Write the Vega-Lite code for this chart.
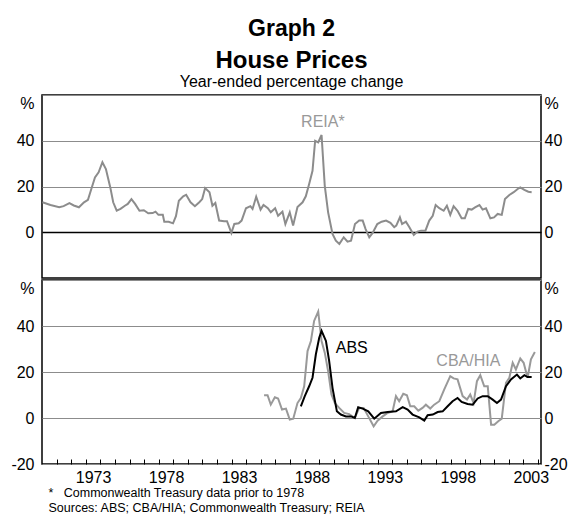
{
  "$schema": "https://vega.github.io/schema/vega-lite/v6.json",
  "background": "white",
  "padding": {"left": 10, "top": 18, "right": 0, "bottom": 0},
  "config": {
    "font": "Liberation Sans",
    "view": {"stroke": "black", "strokeWidth": 1.5},
    "concat": {"spacing": 0},
    "axis": {"labelFontSize": 16, "labelColor": "black", "labelFont": "Liberation Sans", "labelOverlap": false, "labelFlush": false, "domain": false}
  },
  "title": {"text": "Graph 2", "fontSize": 23, "fontWeight": "bold", "color": "black", "anchor": "middle", "frame": "group", "offset": 7},
  "datasets": {
    "reia": [
      {"year": 1970.03, "value": 13.1}, {"year": 1970.58, "value": 11.9}, {"year": 1971.18, "value": 10.9}, {"year": 1971.48, "value": 11.4},
      {"year": 1971.88, "value": 12.7}, {"year": 1972.18, "value": 11.7}, {"year": 1972.53, "value": 10.9}, {"year": 1972.88, "value": 13.1},
      {"year": 1973.15, "value": 14.2}, {"year": 1973.38, "value": 18.9}, {"year": 1973.63, "value": 24.0}, {"year": 1973.88, "value": 26.2},
      {"year": 1974.14, "value": 30.6}, {"year": 1974.38, "value": 27.6}, {"year": 1974.68, "value": 19.6}, {"year": 1974.88, "value": 13.1},
      {"year": 1975.12, "value": 9.4}, {"year": 1975.38, "value": 10.2}, {"year": 1975.68, "value": 11.6}, {"year": 1975.88, "value": 12.4},
      {"year": 1976.13, "value": 14.5}, {"year": 1976.38, "value": 12.4}, {"year": 1976.68, "value": 9.4}, {"year": 1976.98, "value": 9.6},
      {"year": 1977.28, "value": 8.3}, {"year": 1977.58, "value": 8.4}, {"year": 1977.78, "value": 9.0}, {"year": 1977.98, "value": 7.6},
      {"year": 1978.28, "value": 7.6}, {"year": 1978.38, "value": 4.6}, {"year": 1978.68, "value": 4.6}, {"year": 1978.98, "value": 3.9},
      {"year": 1979.18, "value": 7.0}, {"year": 1979.38, "value": 13.8}, {"year": 1979.68, "value": 15.7}, {"year": 1979.88, "value": 16.4},
      {"year": 1980.18, "value": 13.1}, {"year": 1980.48, "value": 11.4}, {"year": 1980.78, "value": 13.1}, {"year": 1980.98, "value": 14.5},
      {"year": 1981.18, "value": 19.3}, {"year": 1981.48, "value": 17.5}, {"year": 1981.68, "value": 11.6}, {"year": 1981.88, "value": 12.8},
      {"year": 1982.14, "value": 5.1}, {"year": 1982.48, "value": 4.8}, {"year": 1982.68, "value": 4.8}, {"year": 1982.98, "value": -0.3},
      {"year": 1983.18, "value": 3.6}, {"year": 1983.48, "value": 3.9}, {"year": 1983.68, "value": 5.1}, {"year": 1983.98, "value": 10.5},
      {"year": 1984.28, "value": 11.4}, {"year": 1984.43, "value": 10.2}, {"year": 1984.68, "value": 15.5}, {"year": 1984.98, "value": 9.9},
      {"year": 1985.18, "value": 11.9}, {"year": 1985.48, "value": 10.5}, {"year": 1985.68, "value": 8.7}, {"year": 1985.98, "value": 10.5},
      {"year": 1986.18, "value": 7.2}, {"year": 1986.48, "value": 9.0}, {"year": 1986.68, "value": 3.6}, {"year": 1986.98, "value": 8.7},
      {"year": 1987.21, "value": 2.9}, {"year": 1987.51, "value": 11.0}, {"year": 1987.86, "value": 13.1}, {"year": 1988.08, "value": 15.7},
      {"year": 1988.31, "value": 21.1}, {"year": 1988.54, "value": 26.9}, {"year": 1988.72, "value": 40.0}, {"year": 1988.93, "value": 39.3},
      {"year": 1989.16, "value": 42.5}, {"year": 1989.38, "value": 20.3}, {"year": 1989.61, "value": 8.7}, {"year": 1989.91, "value": -0.7},
      {"year": 1990.14, "value": -3.7}, {"year": 1990.38, "value": -5.1}, {"year": 1990.68, "value": -2.2}, {"year": 1990.94, "value": -4.1},
      {"year": 1991.18, "value": -3.7}, {"year": 1991.45, "value": 3.6}, {"year": 1991.74, "value": 5.1}, {"year": 1991.98, "value": 5.1},
      {"year": 1992.18, "value": 1.4}, {"year": 1992.43, "value": -2.2}, {"year": 1992.66, "value": -0.3}, {"year": 1992.98, "value": 3.6},
      {"year": 1993.28, "value": 4.6}, {"year": 1993.58, "value": 5.1}, {"year": 1993.88, "value": 4.1}, {"year": 1994.14, "value": 2.2},
      {"year": 1994.28, "value": 2.9}, {"year": 1994.53, "value": 6.5}, {"year": 1994.68, "value": 3.6}, {"year": 1994.94, "value": 4.6},
      {"year": 1995.18, "value": 2.2}, {"year": 1995.48, "value": -1.2}, {"year": 1995.74, "value": 0.3}, {"year": 1995.98, "value": 0.7},
      {"year": 1996.28, "value": 0.7}, {"year": 1996.54, "value": 5.1}, {"year": 1996.78, "value": 7.2}, {"year": 1996.98, "value": 11.9},
      {"year": 1997.23, "value": 10.5}, {"year": 1997.53, "value": 9.4}, {"year": 1997.75, "value": 11.6}, {"year": 1997.98, "value": 7.6},
      {"year": 1998.21, "value": 11.4}, {"year": 1998.48, "value": 9.4}, {"year": 1998.76, "value": 6.1}, {"year": 1998.98, "value": 6.1},
      {"year": 1999.21, "value": 10.2}, {"year": 1999.45, "value": 9.9}, {"year": 1999.68, "value": 10.9}, {"year": 1999.98, "value": 11.9},
      {"year": 2000.2, "value": 9.9}, {"year": 2000.43, "value": 10.5}, {"year": 2000.73, "value": 6.1}, {"year": 2000.98, "value": 6.5},
      {"year": 2001.23, "value": 8.0}, {"year": 2001.51, "value": 7.6}, {"year": 2001.73, "value": 14.5}, {"year": 2002.03, "value": 16.3},
      {"year": 2002.33, "value": 17.5}, {"year": 2002.6, "value": 18.9}, {"year": 2002.78, "value": 19.6}, {"year": 2003.06, "value": 18.5},
      {"year": 2003.33, "value": 17.7}, {"year": 2003.56, "value": 17.5}
    ],
    "cba": [
      {"year": 1985.22, "value": 9.9}, {"year": 1985.46, "value": 9.9}, {"year": 1985.68, "value": 5.8}, {"year": 1985.96, "value": 9.0},
      {"year": 1986.18, "value": 8.5}, {"year": 1986.45, "value": 3.7}, {"year": 1986.72, "value": 4.1}, {"year": 1986.98, "value": -0.7},
      {"year": 1987.22, "value": -0.3}, {"year": 1987.51, "value": 6.5}, {"year": 1987.74, "value": 8.7}, {"year": 1987.97, "value": 13.8},
      {"year": 1988.2, "value": 29.1}, {"year": 1988.43, "value": 33.5}, {"year": 1988.65, "value": 42.2}, {"year": 1988.93, "value": 46.3},
      {"year": 1989.16, "value": 33.5}, {"year": 1989.38, "value": 28.4}, {"year": 1989.61, "value": 20.4}, {"year": 1989.84, "value": 10.2},
      {"year": 1990.07, "value": 6.5}, {"year": 1990.37, "value": 4.4}, {"year": 1990.71, "value": 2.2}, {"year": 1991.05, "value": 1.7},
      {"year": 1991.44, "value": 0.0}, {"year": 1991.74, "value": 4.4}, {"year": 1992.04, "value": 4.4}, {"year": 1992.36, "value": 0.7},
      {"year": 1992.73, "value": -3.6}, {"year": 1993.0, "value": -1.2}, {"year": 1993.35, "value": 0.7}, {"year": 1993.69, "value": 2.2},
      {"year": 1994.03, "value": 2.9}, {"year": 1994.26, "value": 9.5}, {"year": 1994.48, "value": 7.3}, {"year": 1994.76, "value": 10.5},
      {"year": 1995.01, "value": 9.9}, {"year": 1995.24, "value": 5.1}, {"year": 1995.51, "value": 5.1}, {"year": 1995.79, "value": 3.2},
      {"year": 1996.08, "value": 4.4}, {"year": 1996.31, "value": 5.8}, {"year": 1996.61, "value": 4.1}, {"year": 1996.88, "value": 5.8},
      {"year": 1997.23, "value": 7.3}, {"year": 1997.57, "value": 12.4}, {"year": 1997.98, "value": 18.2}, {"year": 1998.21, "value": 17.2},
      {"year": 1998.48, "value": 16.8}, {"year": 1998.83, "value": 9.5}, {"year": 1999.13, "value": 8.0}, {"year": 1999.35, "value": 10.2},
      {"year": 1999.58, "value": 6.5}, {"year": 1999.81, "value": 16.0}, {"year": 2000.04, "value": 18.6}, {"year": 2000.31, "value": 13.8},
      {"year": 2000.55, "value": 13.8}, {"year": 2000.78, "value": -2.9}, {"year": 2001.0, "value": -2.9}, {"year": 2001.27, "value": -1.4},
      {"year": 2001.51, "value": -0.3}, {"year": 2001.8, "value": 15.3}, {"year": 2002.03, "value": 17.5}, {"year": 2002.26, "value": 24.0},
      {"year": 2002.48, "value": 21.1}, {"year": 2002.78, "value": 25.9}, {"year": 2003.01, "value": 24.0}, {"year": 2003.28, "value": 17.5},
      {"year": 2003.51, "value": 25.5}, {"year": 2003.78, "value": 28.7}
    ],
    "abs": [
      {"year": 1987.74, "value": 5.1}, {"year": 1988.01, "value": 9.5}, {"year": 1988.31, "value": 13.8}, {"year": 1988.54, "value": 17.5},
      {"year": 1988.77, "value": 27.7}, {"year": 1989.0, "value": 34.9}, {"year": 1989.16, "value": 37.9}, {"year": 1989.46, "value": 33.5},
      {"year": 1989.68, "value": 24.8}, {"year": 1989.91, "value": 13.1}, {"year": 1990.21, "value": 2.9}, {"year": 1990.48, "value": 1.5},
      {"year": 1990.83, "value": 0.7}, {"year": 1991.18, "value": 0.7}, {"year": 1991.44, "value": 0.0}, {"year": 1991.67, "value": 4.7},
      {"year": 1991.98, "value": 4.1}, {"year": 1992.36, "value": 2.9}, {"year": 1992.77, "value": -0.3}, {"year": 1993.23, "value": 2.2},
      {"year": 1993.69, "value": 2.6}, {"year": 1994.26, "value": 2.9}, {"year": 1994.72, "value": 4.7}, {"year": 1995.06, "value": 3.7},
      {"year": 1995.4, "value": 1.5}, {"year": 1995.86, "value": 0.3}, {"year": 1996.2, "value": -1.1}, {"year": 1996.43, "value": 1.2},
      {"year": 1996.78, "value": 1.5}, {"year": 1997.12, "value": 2.6}, {"year": 1997.46, "value": 2.9}, {"year": 1997.8, "value": 5.1},
      {"year": 1998.14, "value": 7.3}, {"year": 1998.48, "value": 8.7}, {"year": 1998.76, "value": 7.0}, {"year": 1999.17, "value": 6.1},
      {"year": 1999.52, "value": 5.8}, {"year": 1999.86, "value": 8.5}, {"year": 2000.2, "value": 9.5}, {"year": 2000.55, "value": 9.5},
      {"year": 2000.89, "value": 8.0}, {"year": 2001.18, "value": 6.5}, {"year": 2001.46, "value": 8.0}, {"year": 2001.8, "value": 13.8},
      {"year": 2002.14, "value": 16.8}, {"year": 2002.55, "value": 18.9}, {"year": 2002.78, "value": 17.2}, {"year": 2003.06, "value": 18.6},
      {"year": 2003.28, "value": 17.8}, {"year": 2003.56, "value": 17.8}
    ]
  },
  "vconcat": [
    {
      "width": 499,
      "height": 183,
      "title": {"text": "House Prices", "subtitle": "Year-ended percentage change", "fontSize": 24, "fontWeight": "bold", "color": "black", "subtitleFontSize": 16, "subtitleColor": "black", "subtitleFont": "Liberation Sans", "subtitlePadding": 1, "anchor": "middle", "frame": "group", "offset": 5},
      "layer": [
        {
          "data": {"name": "reia"},
          "mark": {"type": "line", "color": "#8c8c8c", "strokeWidth": 2},
          "encoding": {
            "x": {"field": "year", "type": "quantitative", "scale": {"domain": [1970, 2004.2], "nice": false, "zero": false}, "axis": null},
            "y": {"field": "value", "type": "quantitative", "scale": {"domain": [-20, 60], "nice": false},
              "axis": {"orient": "left", "title": null, "values": [60, 40, 20, 0], "labelExpr": "datum.value == 60 ? '%' : '' + datum.value", "ticks": false, "labelPadding": 8, "labelOverlap": false,
                "labelBaseline": {"condition": {"test": "datum.value == 60", "value": "top"}, "value": "middle"},
                "grid": true,
                "gridColor": {"condition": {"test": "datum.value == 0", "value": "black"}, "value": "#8c8c8c"},
                "gridWidth": {"condition": {"test": "datum.value == 0", "value": 1.5}, "value": 1}}}
          }
        },
        {
          "data": {"values": [{"year": 1989.25, "value": 48.2, "label": "REIA*"}]},
          "mark": {"type": "text", "fontSize": 16, "color": "#999999"},
          "encoding": {
            "x": {"field": "year", "type": "quantitative", "scale": {"domain": [1970, 2004.2], "nice": false, "zero": false}, "axis": null},
            "y": {"field": "value", "type": "quantitative", "scale": {"domain": [-20, 60], "nice": false},
              "axis": {"orient": "right", "title": null, "values": [60, 40, 20, 0], "labelExpr": "datum.value == 60 ? '%' : '' + datum.value", "ticks": false, "labelPadding": 3, "grid": false, "labelOverlap": false,
                "labelBaseline": {"condition": {"test": "datum.value == 60", "value": "top"}, "value": "middle"}}},
            "text": {"field": "label"}
          }
        }
      ],
      "resolve": {"axis": {"y": "independent"}}
    },
    {
      "width": 499,
      "height": 184,
      "layer": [
        {
          "data": {"name": "cba"},
          "mark": {"type": "line", "color": "#999999", "strokeWidth": 2},
          "encoding": {
            "x": {"field": "year", "type": "quantitative", "scale": {"domain": [1970, 2004.2], "nice": false, "zero": false},
              "axis": {"orient": "bottom", "values": [1971, 1972, 1973, 1974, 1975, 1976, 1977, 1978, 1979, 1980, 1981, 1982, 1983, 1984, 1985, 1986, 1987, 1988, 1989, 1990, 1991, 1992, 1993, 1994, 1995, 1996, 1997, 1998, 1999, 2000, 2001, 2002, 2003, 2004],
                "labels": false, "ticks": true, "tickSize": 5, "tickColor": "black", "tickWidth": 1, "offset": -5, "grid": false, "title": null, "domain": false}},
            "y": {"field": "value", "type": "quantitative", "scale": {"domain": [-20, 60], "nice": false},
              "axis": {"orient": "left", "title": null, "values": [60, 40, 20, 0, -20], "labelExpr": "datum.value == 60 ? '%' : '' + datum.value", "ticks": false, "labelPadding": 8, "labelOverlap": false,
                "labelBaseline": {"condition": {"test": "datum.value == 60", "value": "top"}, "value": "middle"},
                "grid": true, "gridColor": "#8c8c8c", "gridWidth": 1}}
          }
        },
        {
          "data": {"name": "abs"},
          "mark": {"type": "line", "color": "black", "strokeWidth": 2},
          "encoding": {
            "x": {"field": "year", "type": "quantitative",
              "axis": {"orient": "bottom", "values": [1973, 1978, 1983, 1988, 1993, 1998, 2003],
                "labelExpr": "'' + datum.value", "ticks": false, "labelOffset": 7.3, "labelPadding": 5, "grid": false, "labelOverlap": false, "labelFlush": false, "labelBound": false,
                "title": ["*\u00a0\u00a0\u00a0Commonwealth Treasury data prior to 1978", "Sources: ABS; CBA/HIA; Commonwealth Treasury; REIA"],
                "titleFontSize": 12.5, "titleFontWeight": "normal", "titleColor": "black", "titleAnchor": "start", "titleAlign": "left", "titleBaseline": "top", "titleLineHeight": 15, "titleX": 6, "titleY": 22}},
            "y": {"field": "value", "type": "quantitative",
              "axis": {"orient": "right", "title": null, "values": [60, 40, 20, 0, -20], "labelExpr": "datum.value == 60 ? '%' : '' + datum.value", "ticks": false, "labelPadding": 3, "grid": false, "labelOverlap": false,
                "labelBaseline": {"condition": {"test": "datum.value == 60", "value": "top"}, "value": "middle"}}}
          }
        },
        {
          "data": {"values": [{"year": 1991.23, "value": 30.4, "label": "ABS", "c": "black"}, {"year": 1999.22, "value": 24.8, "label": "CBA/HIA", "c": "#999999"}]},
          "mark": {"type": "text", "fontSize": 16},
          "encoding": {
            "x": {"field": "year", "type": "quantitative", "axis": null},
            "y": {"field": "value", "type": "quantitative", "axis": null},
            "text": {"field": "label"},
            "color": {"field": "c", "type": "nominal", "scale": null}
          }
        }
      ],
      "resolve": {"axis": {"x": "independent", "y": "independent"}}
    }
  ]
}
